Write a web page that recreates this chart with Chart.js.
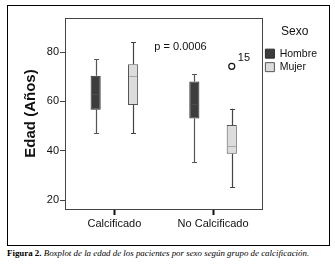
<!DOCTYPE html>
<html>
<head>
<meta charset="utf-8">
<script src="https://cdn.jsdelivr.net/npm/chart.js@4"></script>
<style>
  html, body { margin: 0; padding: 0; background: #fff; }
  #frame { position: absolute; left: 7px; top: 5px; width: 323px; height: 241px; box-sizing: border-box; border: 1px solid #000; }
  #frame canvas { display: block; }
  #caption { position: absolute; left: 7px; top: 248px; font-family: "Liberation Serif", "DejaVu Serif", serif; font-size: 8.9px; color: #000; white-space: nowrap; }
  #caption b { font-weight: bold; }
  #caption i { font-style: italic; }
</style>
</head>
<body>
<div id="frame"><canvas id="c" width="321" height="239"></canvas></div>
<div id="caption"><b>Figura 2.</b> <i>Boxplot de la edad de los pacientes por sexo según grupo de calcificación.</i></div>
<script>
// ---- data ----
const categories = ['Calcificado', 'No Calcificado'];
const seriesNames = ['Hombre', 'Mujer'];
const hombreMin = [47.2, 35.4];
const hombreQ1  = [56.6, 53.1];
const hombreMed = [63.0, 58.9];
const hombreQ3  = [70.4, 68.1];
const hombreMax = [77.2, 71.1];
const mujerMin  = [47.2, 25.3];
const mujerQ1   = [58.5, 38.8];
const mujerMed  = [70.4, 41.9];
const mujerQ3   = [75.1, 50.4];
const mujerMax  = [83.9, 57.0];
const mujerOutliers  = [[], [74.2]];
const mujerOutlierIds = [[], ['15']];
const hombreOutliers = [[], []];
const hombreOutlierIds = [[], []];
const yTicks = [20, 40, 60, 80];
const pValueText = 'p = 0.0006';

const stats = [
  {min: hombreMin, q1: hombreQ1, med: hombreMed, q3: hombreQ3, max: hombreMax, out: hombreOutliers, ids: hombreOutlierIds, medColor: '#4c4c4c', whisk: '#555'},
  {min: mujerMin,  q1: mujerQ1,  med: mujerMed,  q3: mujerQ3,  max: mujerMax,  out: mujerOutliers,  ids: mujerOutlierIds,  medColor: '#a8a8a8', whisk: '#444'}
];

const boxPlugin = {
  id: 'boxparts',
  beforeDatasetsDraw(chart) {
    const ctx = chart.ctx, y = chart.scales.y;
    ctx.save();
    stats.forEach((s, di) => {
      const meta = chart.getDatasetMeta(di);
      meta.data.forEach((el, j) => {
        const x = Math.round(el.x) + 0.5;
        ctx.strokeStyle = s.whisk; ctx.lineWidth = 1.2;
        ctx.beginPath();
        ctx.moveTo(x, y.getPixelForValue(s.max[j])); ctx.lineTo(x, y.getPixelForValue(s.q3[j]));
        ctx.moveTo(x, y.getPixelForValue(s.q1[j])); ctx.lineTo(x, y.getPixelForValue(s.min[j]));
        const cap = 2.5;
        [s.max[j], s.min[j]].forEach(v => {
          const py = Math.round(y.getPixelForValue(v)) + 0.5;
          ctx.moveTo(x - cap, py); ctx.lineTo(x + cap, py);
        });
        ctx.stroke();
      });
    });
    ctx.restore();
  },
  afterDatasetsDraw(chart) {
    const ctx = chart.ctx, y = chart.scales.y, a = chart.chartArea;
    ctx.save();
    stats.forEach((s, di) => {
      const meta = chart.getDatasetMeta(di);
      meta.data.forEach((el, j) => {
        const half = el.width / 2 - 1;
        const py = Math.round(y.getPixelForValue(s.med[j])) + 0.5;
        ctx.strokeStyle = s.medColor; ctx.lineWidth = 1;
        ctx.beginPath(); ctx.moveTo(el.x - half, py); ctx.lineTo(el.x + half, py); ctx.stroke();
        s.out[j].forEach((v, k) => {
          const oy = y.getPixelForValue(v);
          ctx.strokeStyle = '#111'; ctx.lineWidth = 1.2;
          ctx.beginPath(); ctx.arc(el.x, oy, 3, 0, Math.PI * 2); ctx.stroke();
          ctx.fillStyle = '#111'; ctx.font = '11px "Liberation Sans", Arial, sans-serif';
          ctx.textBaseline = 'bottom'; ctx.textAlign = 'left';
          ctx.fillText(s.ids[j][k], el.x + 6, oy - 3);
        });
      });
    });
    // plot frame
    ctx.strokeStyle = '#444'; ctx.lineWidth = 1;
    ctx.strokeRect(Math.round(a.left) + 0.5, Math.round(a.top) + 0.5, Math.round(a.right - a.left), Math.round(a.bottom - a.top));
    // p value annotation
    ctx.fillStyle = '#111'; ctx.font = '11px "Liberation Sans", Arial, sans-serif';
    ctx.textAlign = 'center'; ctx.textBaseline = 'middle';
    ctx.fillText(pValueText, a.left + (a.right - a.left) * 0.585, a.top + 29);
    ctx.restore();
  }
};

const floating = (lo, hi) => lo.map((v, i) => [v, hi[i]]);

new Chart(document.getElementById('c'), {
  type: 'bar',
  data: {
    labels: categories,
    datasets: [
      { label: seriesNames[0], data: floating(hombreQ1, hombreQ3), backgroundColor: '#3d3d3d', borderColor: '#2a2a2a', borderWidth: 1, borderSkipped: false },
      { label: seriesNames[1], data: floating(mujerQ1, mujerQ3), backgroundColor: '#dcdcdc', borderColor: '#555', borderWidth: 1, borderSkipped: false }
    ]
  },
  options: {
    responsive: false,
    animation: false,
    categoryPercentage: 0.758,
    barPercentage: 0.27,
    layout: { padding: { top: 12, right: 2, bottom: 0, left: 0 } },
    plugins: {
      tooltip: { enabled: false },
      legend: {
        position: 'right',
        align: 'start',
        title: { display: true, text: 'Sexo', color: '#111', font: { family: '"Liberation Sans", Arial, sans-serif', size: 12 }, padding: { top: 8, bottom: 5 } },
        labels: { boxWidth: 9, boxHeight: 9, padding: 3, color: '#111', font: { family: '"Liberation Sans", Arial, sans-serif', size: 10.5 } }
      }
    },
    scales: {
      x: {
        grid: { display: true, drawOnChartArea: false, offset: false, tickLength: 6, tickWidth: 2, tickColor: '#111' },
        border: { display: true, color: '#444' },
        ticks: { color: '#111', font: { family: '"Liberation Sans", Arial, sans-serif', size: 11 }, padding: 2 },
        afterFit(scale) { scale.height = 36; }
      },
      y: {
        min: 16.4, max: 93.8,
        afterBuildTicks(scale) { scale.ticks = yTicks.map(v => ({ value: v })); },
        grid: { display: true, drawOnChartArea: false, tickLength: 5, tickColor: '#444' },
        border: { display: true, color: '#444' },
        ticks: { color: '#111', font: { family: '"Liberation Sans", Arial, sans-serif', size: 11 }, padding: 1 },
        title: { display: true, text: 'Edad (Años)', color: '#111', font: { family: '"Liberation Sans", Arial, sans-serif', size: 15, weight: 'bold' }, padding: { top: 14, bottom: 4 } },
        afterFit(scale) { scale.width = 57; }
      }
    }
  },
  plugins: [boxPlugin]
});
</script>
</body>
</html>
